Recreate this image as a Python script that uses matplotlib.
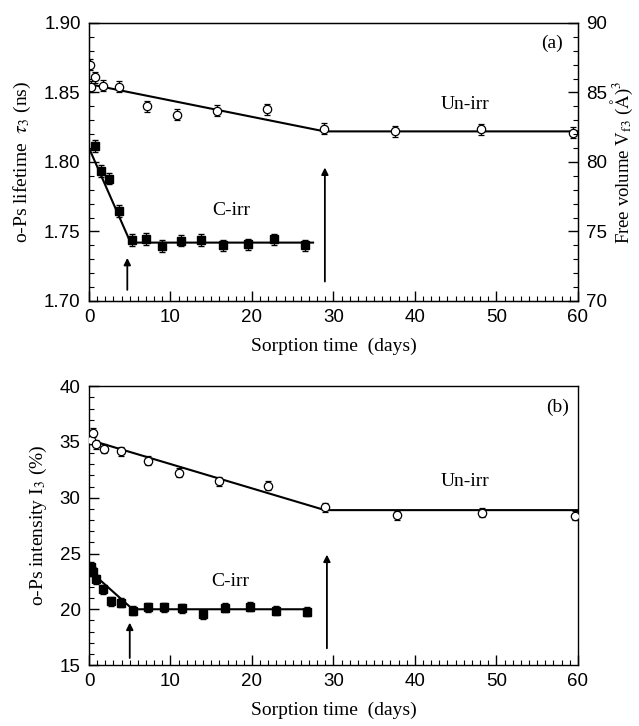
import matplotlib
matplotlib.use("Agg")
import matplotlib.pyplot as plt
from matplotlib.ticker import MultipleLocator

plt.rcParams['mathtext.fontset'] = 'stix'
SERIF = ['Liberation Serif', 'DejaVu Serif']
SANS = ['Liberation Sans', 'DejaVu Sans']

# ---------- panel (a): o-Ps lifetime ----------
a_un_x = [0.1, 0.25, 0.74, 1.76, 3.7, 7.1, 10.8, 15.7, 21.8, 28.8, 37.5, 48.1, 59.4]
a_un_y = [1.870, 1.854, 1.861, 1.855, 1.854, 1.840, 1.834, 1.837, 1.838, 1.824, 1.822, 1.8235, 1.821]
a_un_err = [0.004] * len(a_un_x)
a_un_fit_x = [0, 28.9, 60]
a_un_fit_y = [1.856, 1.822, 1.822]

a_c_x = [0.74, 1.47, 2.5, 3.72, 5.24, 7.0, 8.96, 11.25, 13.8, 16.5, 19.5, 22.7, 26.5]
a_c_y = [1.8115, 1.7935, 1.788, 1.7647, 1.7439, 1.7446, 1.7396, 1.7434, 1.7439, 1.740, 1.7408, 1.7444, 1.740]
a_c_err = [0.004] * len(a_c_x)
a_c_fit_x = [0, 5.1, 27.5]
a_c_fit_y = [1.810, 1.742, 1.742]

a_arrows = [(4.7, 1.708, 1.731), (28.95, 1.714, 1.796)]

# ---------- panel (b): o-Ps intensity ----------
b_un_x = [0.2, 0.45, 0.86, 1.88, 3.93, 7.2, 11.0, 15.95, 22.0, 28.96, 37.75, 48.2, 59.6]
b_un_y = [35.2, 35.82, 34.8, 34.38, 34.18, 33.31, 32.23, 31.49, 31.07, 29.13, 28.44, 28.65, 28.38]
b_un_err = [0.4] * len(b_un_x)
b_un_fit_x = [0, 28.96, 60]
b_un_fit_y = [35.2, 28.89, 28.89]

b_c_x = [0.25, 0.45, 0.86, 1.68, 2.7, 3.93, 5.36, 7.2, 9.2, 11.4, 13.95, 16.7, 19.75, 22.9, 26.7]
b_c_y = [23.81, 23.36, 22.68, 21.81, 20.73, 20.58, 19.86, 20.17, 20.17, 20.08, 19.54, 20.13, 20.22, 19.86, 19.78]
b_c_err = [0.4] * len(b_c_x)
b_c_fit_x = [0, 5.36, 27.2]
b_c_fit_y = [23.5, 20.0, 20.0]

b_arrows = [(5.0, 15.63, 18.8), (29.2, 16.5, 24.9)]

fig = plt.figure(figsize=(6.39, 7.26), dpi=100)
ax1 = fig.add_axes([0.1393, 0.5854, 0.765, 0.383])
ax2 = fig.add_axes([0.1393, 0.084, 0.765, 0.384])


def style(ax, ymaj, ymin, right_ticks=False):
    ax.set_xlim(0, 60)
    ax.xaxis.set_major_locator(MultipleLocator(10))
    ax.xaxis.set_minor_locator(MultipleLocator(1))
    ax.yaxis.set_major_locator(MultipleLocator(ymaj))
    ax.yaxis.set_minor_locator(MultipleLocator(ymin))
    ax.tick_params(which='both', direction='in', top=False, right=right_ticks,
                   labelsize=13.5, pad=6)
    ax.tick_params(which='major', length=7, width=1)
    ax.tick_params(which='minor', length=3.5, width=0.8)
    for lab in ax.get_xticklabels() + ax.get_yticklabels():
        lab.set_family(SANS)
    for s in ax.spines.values():
        s.set_linewidth(1.0)


def draw(ax, ux, uy, ue, ufx, ufy, cx, cy, ce, cfx, cfy, arrows):
    ax.plot(ufx, ufy, color='black', lw=1.5, zorder=2)
    ax.plot(cfx, cfy, color='black', lw=1.5, zorder=2)
    ax.errorbar(ux, uy, yerr=ue, fmt='o', mfc='white', mec='black', mew=0.9,
                ms=6, ecolor='black', elinewidth=0.9, capsize=2, zorder=3)
    ax.errorbar(cx, cy, yerr=ce, fmt='s', mfc='black', mec='black',
                ms=5.5, ecolor='black', elinewidth=0.9, capsize=2, zorder=3)
    for x, y0, y1 in arrows:
        ax.annotate('', xy=(x, y1), xytext=(x, y0),
                    arrowprops=dict(arrowstyle='-|>', color='black', lw=1.3,
                                    mutation_scale=10, shrinkA=0, shrinkB=0))


draw(ax1, a_un_x, a_un_y, a_un_err, a_un_fit_x, a_un_fit_y,
     a_c_x, a_c_y, a_c_err, a_c_fit_x, a_c_fit_y, a_arrows)
ax1.set_ylim(1.70, 1.90)
style(ax1, 0.05, 0.01)
ax1.set_yticklabels([f'{v:.2f}' for v in ax1.get_yticks()])
for lab in ax1.get_yticklabels():
    lab.set_family(SANS)
ax1.set_ylabel(r'o-Ps lifetime  $\tau_3$ (ns)', family=SERIF, fontsize=14, labelpad=8)
ax1.set_xlabel('Sorption time  (days)', family=SERIF, fontsize=14, labelpad=8)
ax1.text(56.8, 1.885, '(a)', family=SERIF, fontsize=14, ha='center', va='center')
ax1.text(46.1, 1.841, 'Un-irr', family=SERIF, fontsize=14, ha='center', va='center')
ax1.text(17.5, 1.765, 'C-irr', family=SERIF, fontsize=14, ha='center', va='center')

axr = ax1.twinx()
axr.set_ylim(70, 90)
axr.yaxis.set_major_locator(MultipleLocator(5))
axr.yaxis.set_minor_locator(MultipleLocator(1))
axr.tick_params(which='both', direction='in', labelsize=13.5, pad=6)
axr.tick_params(which='major', length=7, width=1)
axr.tick_params(which='minor', length=3.5, width=0.8)
for lab in axr.get_yticklabels():
    lab.set_family(SANS)
axr.set_ylabel(r'Free volume V$_{\mathrm{f3}}$ ($\mathrm{\AA}$)$^3$', family=SERIF,
               fontsize=13.5, rotation=90, labelpad=1)

draw(ax2, b_un_x, b_un_y, b_un_err, b_un_fit_x, b_un_fit_y,
     b_c_x, b_c_y, b_c_err, b_c_fit_x, b_c_fit_y, b_arrows)
ax2.set_ylim(15, 40)
style(ax2, 5, 1)
ax2.set_ylabel(r'o-Ps intensity I$_3$ (%)', family=SERIF, fontsize=14, labelpad=8)
ax2.set_xlabel('Sorption time  (days)', family=SERIF, fontsize=14, labelpad=8)
ax2.text(57.5, 38.1, '(b)', family=SERIF, fontsize=14, ha='center', va='center')
ax2.text(46.1, 31.5, 'Un-irr', family=SERIF, fontsize=14, ha='center', va='center')
ax2.text(17.3, 22.47, 'C-irr', family=SERIF, fontsize=14, ha='center', va='center')

fig.savefig('out.png', dpi=100)
